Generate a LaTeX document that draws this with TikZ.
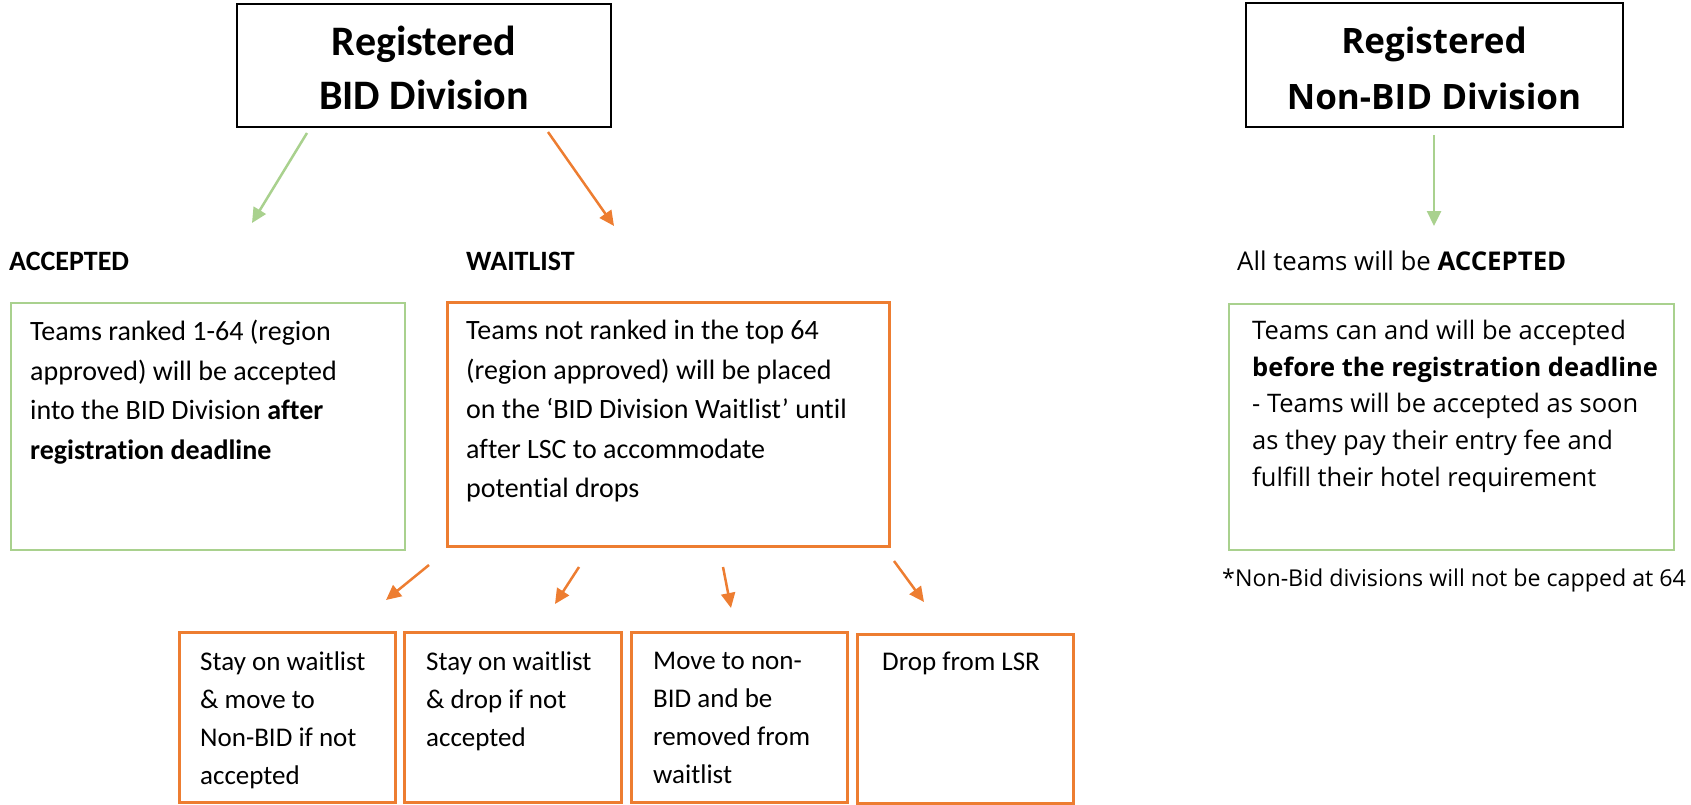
\documentclass[tikz,border=0pt]{standalone}
\usepackage{fontspec}
\setmainfont[Ligatures=NoCommon]{Carlito}
\newfontfamily\osans{Open Sans}
\usetikzlibrary{arrows.meta}
\definecolor{lgreen}{HTML}{A9D18E}
\definecolor{orng}{HTML}{ED7D31}
\tikzset{
  px/.style={x=1pt,y=-1pt},
  hdrbox/.style={draw=black,line width=2.5pt,inner sep=0pt},
  gbox/.style={draw=lgreen,line width=2pt},
  obox/.style={draw=orng,line width=3pt},
  garrow/.style={draw=lgreen,line width=2.5pt,-{Triangle[length=15pt,width=14pt]}},
  oarrow/.style={draw=orng,line width=2.5pt,-{Triangle[length=15pt,width=14pt]}},
  body/.style={font=\fontsize{28}{39.5}\selectfont,align=left,anchor=north west,inner sep=0pt},
  rbody/.style={font=\osans\fontsize{25.5}{36.7}\selectfont,align=left,anchor=north west,inner sep=0pt},
}
\begin{document}
\begin{tikzpicture}[px]
\useasboundingbox (0,0) rectangle (1691,805);
% header boxes
\draw[hdrbox] (237,4) rectangle (611,127);
\node[font=\bfseries\fontsize{42}{54}\selectfont,align=center] (bid) at (424,68) {Registered\\BID Division};
\draw[hdrbox] (1246,3) rectangle (1623,127);
\node[font=\osans\bfseries\fontsize{35}{56}\selectfont,align=center] (nonbid) at (1434,68) {Registered\\Non-BID Division};
% arrows from headers
\coordinate (g1s) at (307,133); \coordinate (g1e) at (252,223);
\draw[garrow] (g1s) -- (g1e);
\coordinate (o1s) at (548,132); \coordinate (o1e) at (614,226);
\draw[oarrow] (o1s) -- (o1e);
\coordinate (g2s) at (1434,135); \coordinate (g2e) at (1434,226);
\draw[garrow] (g2s) -- (g2e);
% labels
\node[font=\bfseries\fontsize{28}{34}\selectfont,anchor=west,inner sep=0pt] (acc) at (9,261) {ACCEPTED};
\node[font=\bfseries\fontsize{28}{34}\selectfont,anchor=west,inner sep=0pt] (wait) at (466,261) {WAITLIST};
\node[font=\osans\fontsize{25.8}{34}\selectfont,anchor=west,inner sep=0pt] (allacc) at (1237,261) {All teams will be \textbf{ACCEPTED}};
% green box left
\draw[gbox] (11,303) rectangle (405,550);
\node[body] (acctext) at (30,320) {Teams ranked 1-64 (region\\approved) will be accepted\\into the BID Division \textbf{after}\\\textbf{registration deadline}};
% orange box
\draw[obox] (447,302) rectangle (889,546);
\node[body] (waittext) at (466,320) {Teams not ranked in the top 64\\(region approved) will be placed\\on the ‘BID Division Waitlist’ until\\after LSC to accommodate\\potential drops};
% right green box
\draw[gbox] (1229,304) rectangle (1674,550);
\node[rbody] (nbtext) at (1252,320) {Teams can and will be accepted\\\textbf{before the registration deadline}\\- Teams will be accepted as soon\\as they pay their entry fee and\\fulfill their hotel requirement};
\node[font=\osans\fontsize{23.2}{28}\selectfont,anchor=west,inner sep=0pt] (note) at (1222,580) {*Non-Bid divisions will not be capped at 64};
% small arrows
\coordinate (a1s) at (429,565); \coordinate (a1e) at (386,600);
\coordinate (a2s) at (579,567); \coordinate (a2e) at (555,604);
\coordinate (a3s) at (723,567); \coordinate (a3e) at (731,608);
\coordinate (a4s) at (894,561); \coordinate (a4e) at (924,602);
\draw[oarrow] (a1s) -- (a1e);
\draw[oarrow] (a2s) -- (a2e);
\draw[oarrow] (a3s) -- (a3e);
\draw[oarrow] (a4s) -- (a4e);
% bottom boxes
\draw[obox] (179,632) rectangle (395,802);
\draw[obox] (404,632) rectangle (621,802);
\draw[obox] (631,632) rectangle (847,802);
\draw[obox] (857,634) rectangle (1073,803);
\node[body,font=\fontsize{27}{38}\selectfont] (b1) at (200,652) {Stay on waitlist\\\& move to\\Non-BID if not\\accepted};
\node[body,font=\fontsize{27}{38}\selectfont] (b2) at (426,652) {Stay on waitlist\\\& drop if not\\accepted};
\node[body,font=\fontsize{27}{38}\selectfont] (b3) at (653,652) {Move to non-\\BID and be\\removed from\\waitlist};
\node[body,font=\fontsize{27}{38}\selectfont] (b4) at (882,652) {Drop from LSR};
\end{tikzpicture}
\end{document}
